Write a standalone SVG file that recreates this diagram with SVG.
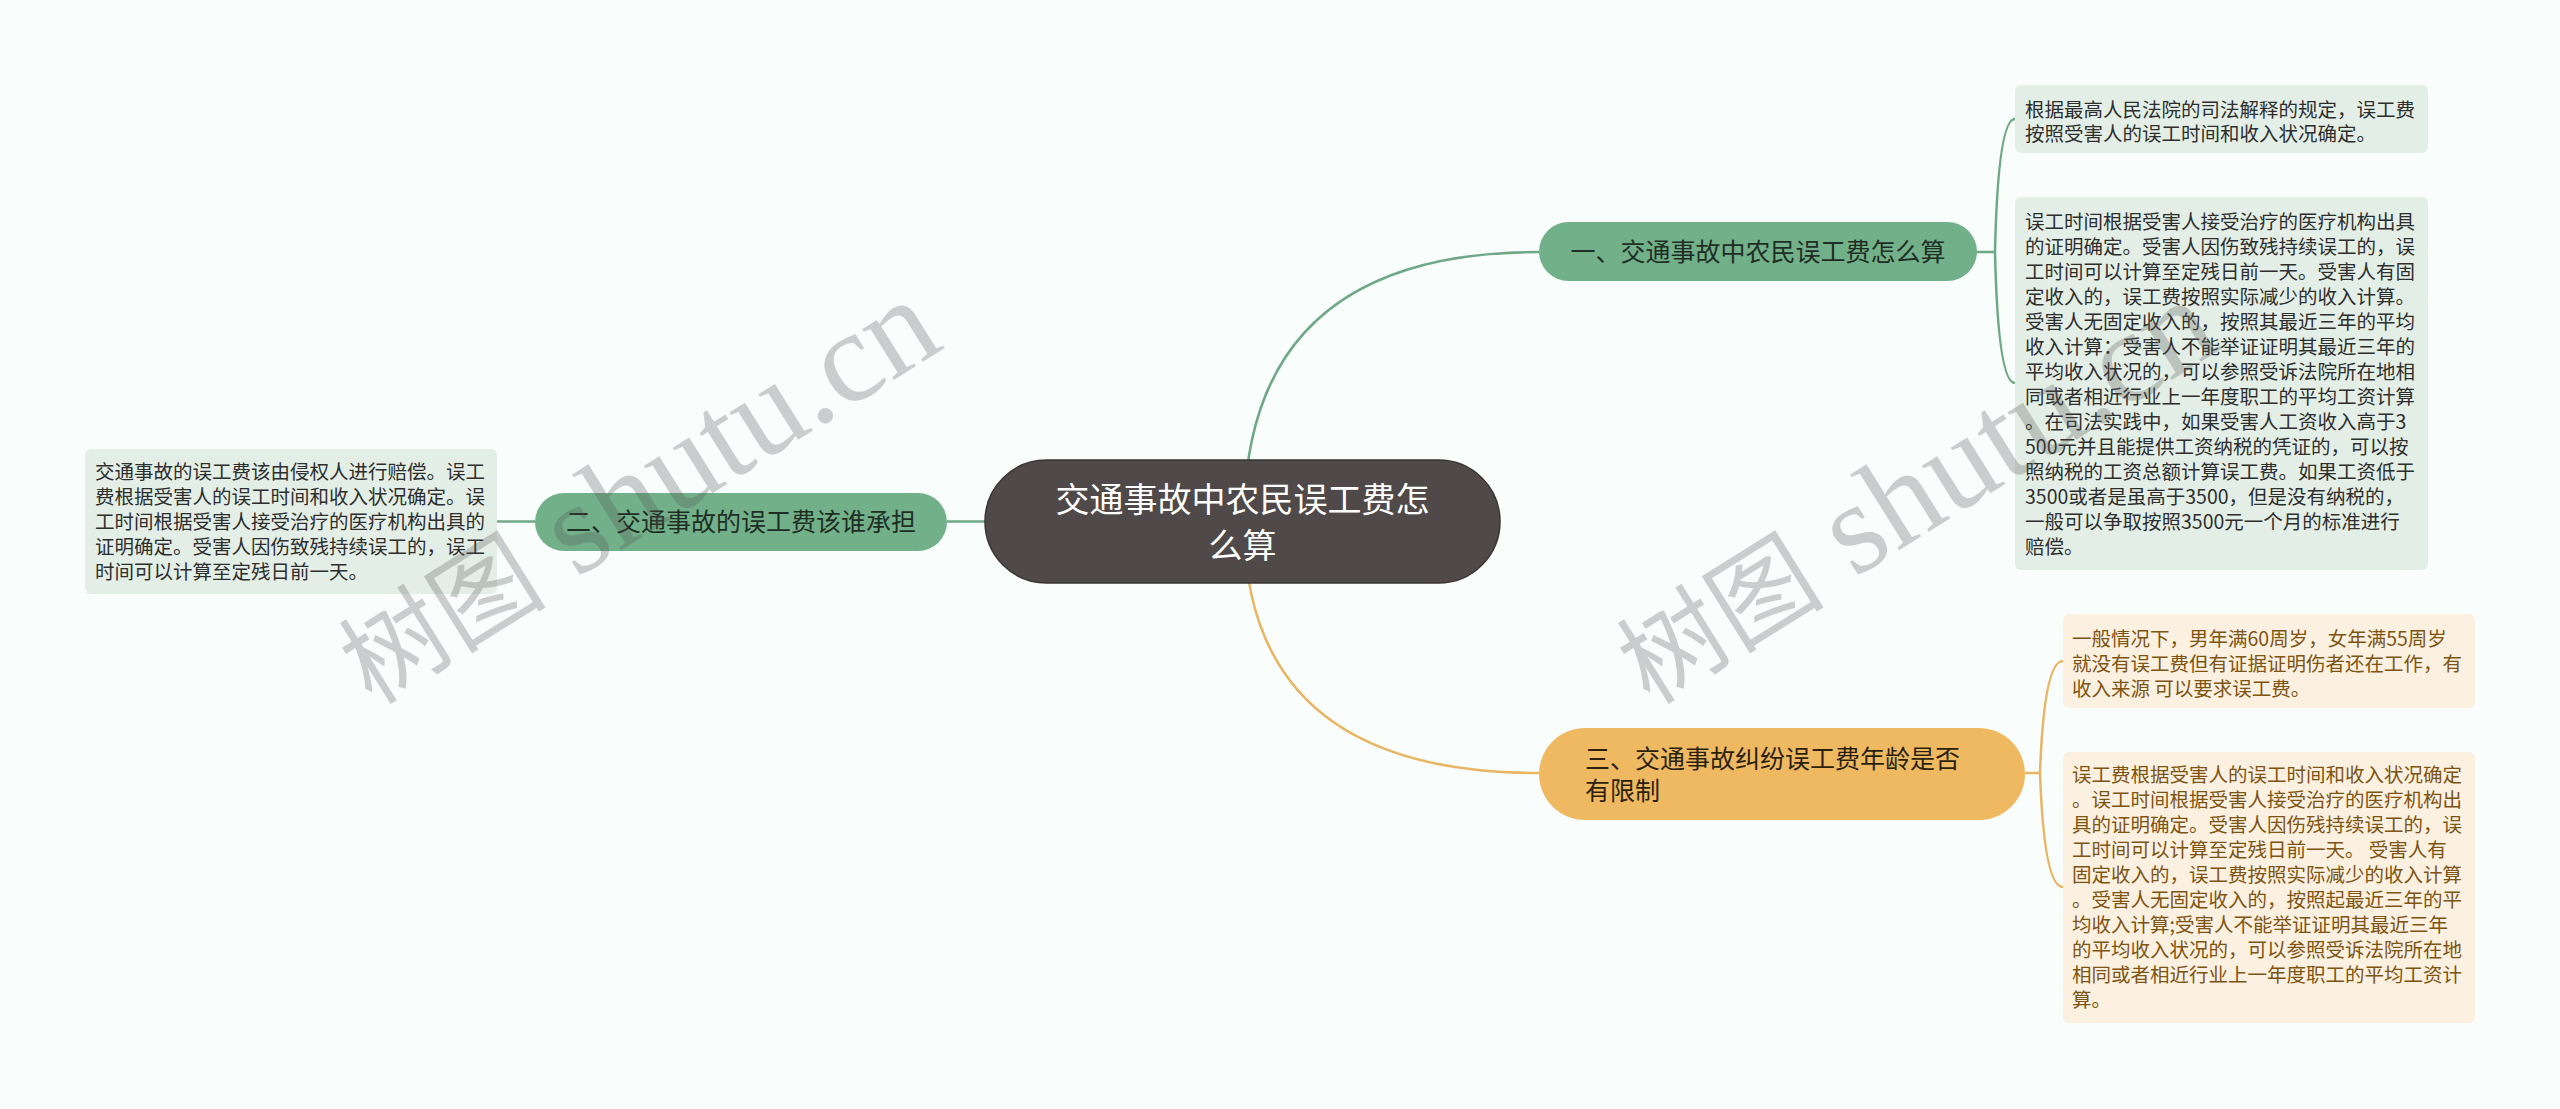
<svg xmlns="http://www.w3.org/2000/svg" width="2560" height="1109" viewBox="0 0 2560 1109">
<style>
.leafg{fill:#e3efe6;}
.leafo{fill:#fcf0e0;}
.lt{font-family:"Noto Sans CJK SC","Noto Sans",sans-serif;font-size:19.5px;}
.ltg{fill:#2e2e2e;}
.lto{fill:#7d5412;}
.nt{font-family:"Noto Sans CJK SC","Noto Sans",sans-serif;font-size:25px;}
.cg{fill:none;stroke:#6fa886;stroke-width:2.5;}
.co{fill:none;stroke:#e8b563;stroke-width:2.5;}
.wm{fill:#555;opacity:0.28;}
</style>
<rect x="0" y="0" width="2560" height="1109" fill="#f9fdfc"/>
<g id="connectors">
<path class="cg" d="M1244 521 Q1244 252 1539 252"/>
<path class="co" d="M1244 521 Q1244 773 1539 773"/>
<path class="cg" d="M947 521.5 H1000"/>
<path class="cg" d="M497 521.5 H535"/>
<path class="cg" d="M1977 252 H1995"/>
<path class="cg" d="M1995 252 Q1998 119 2015 119"/>
<path class="cg" d="M1995 252 Q1998 383 2015 383"/>
<path class="co" d="M2025 773 H2040"/>
<path class="co" d="M2040 773 Q2044 661 2063 661"/>
<path class="co" d="M2040 773 Q2044 887 2063 887"/>
</g>
<g id="center">
<rect x="985" y="460" width="515" height="123" rx="61.5" fill="#4f4949" stroke="#3a3434" stroke-width="1.5"/>
<text font-family="'Noto Sans CJK SC','Noto Sans',sans-serif" font-size="34" fill="#ffffff" text-anchor="middle"><tspan x="1242.5" y="512">交通事故中农民误工费怎</tspan><tspan x="1242.5" y="558">么算</tspan></text>
</g>
<g id="node1">
<rect x="1539" y="222" width="438" height="59" rx="29.5" fill="#72b08a"/>
<text class="nt" fill="#1f2e24" x="1758" y="261" text-anchor="middle">一、交通事故中农民误工费怎么算</text>
</g>
<g id="node2">
<rect x="535" y="493" width="412" height="58" rx="29" fill="#72b08a"/>
<text class="nt" fill="#1f2e24" x="741" y="531" text-anchor="middle">二、交通事故的误工费该谁承担</text>
</g>
<g id="node3">
<rect x="1539" y="728" width="486" height="92" rx="46" fill="#efb962"/>
<text class="nt" fill="#2b1f0e"><tspan x="1585" y="768">三、交通事故纠纷误工费年龄是否</tspan><tspan x="1585" y="800">有限制</tspan></text>
</g>
<g id="leaf1">
<rect class="leafg" x="2015" y="85" width="413" height="68" rx="6"/>
<text class="lt ltg"><tspan x="2025" y="117">根据最高人民法院的司法解释的规定，误工费</tspan><tspan x="2025" y="141">按照受害人的误工时间和收入状况确定。</tspan></text>
</g>
<g id="leaf2">
<rect class="leafg" x="2015" y="197" width="413" height="373" rx="6"/>
<text class="lt ltg"><tspan x="2025" y="229">误工时间根据受害人接受治疗的医疗机构出具</tspan><tspan x="2025" y="254">的证明确定。受害人因伤致残持续误工的，误</tspan><tspan x="2025" y="279">工时间可以计算至定残日前一天。受害人有固</tspan><tspan x="2025" y="304">定收入的，误工费按照实际减少的收入计算。</tspan><tspan x="2025" y="329">受害人无固定收入的，按照其最近三年的平均</tspan><tspan x="2025" y="354">收入计算：受害人不能举证证明其最近三年的</tspan><tspan x="2025" y="379">平均收入状况的，可以参照受诉法院所在地相</tspan><tspan x="2025" y="404">同或者相近行业上一年度职工的平均工资计算</tspan><tspan x="2025" y="429">。在司法实践中，如果受害人工资收入高于3</tspan><tspan x="2025" y="454">500元并且能提供工资纳税的凭证的，可以按</tspan><tspan x="2025" y="479">照纳税的工资总额计算误工费。如果工资低于</tspan><tspan x="2025" y="504">3500或者是虽高于3500，但是没有纳税的，</tspan><tspan x="2025" y="529">一般可以争取按照3500元一个月的标准进行</tspan><tspan x="2025" y="554">赔偿。</tspan></text>
</g>
<g id="leaf3">
<rect class="leafo" x="2063" y="614" width="412" height="94" rx="6"/>
<text class="lt lto"><tspan x="2072" y="646">一般情况下，男年满60周岁，女年满55周岁</tspan><tspan x="2072" y="671">就没有误工费但有证据证明伤者还在工作，有</tspan><tspan x="2072" y="696">收入来源 可以要求误工费。</tspan></text>
</g>
<g id="leaf4">
<rect class="leafo" x="2063" y="752" width="412" height="271" rx="6"/>
<text class="lt lto"><tspan x="2072" y="782">误工费根据受害人的误工时间和收入状况确定</tspan><tspan x="2072" y="807">。误工时间根据受害人接受治疗的医疗机构出</tspan><tspan x="2072" y="832">具的证明确定。受害人因伤残持续误工的，误</tspan><tspan x="2072" y="857">工时间可以计算至定残日前一天。 受害人有</tspan><tspan x="2072" y="882">固定收入的，误工费按照实际减少的收入计算</tspan><tspan x="2072" y="907">。受害人无固定收入的，按照起最近三年的平</tspan><tspan x="2072" y="932">均收入计算;受害人不能举证证明其最近三年</tspan><tspan x="2072" y="957">的平均收入状况的，可以参照受诉法院所在地</tspan><tspan x="2072" y="982">相同或者相近行业上一年度职工的平均工资计</tspan><tspan x="2072" y="1007">算。</tspan></text>
</g>
<g id="leaf5">
<rect class="leafg" x="85" y="449" width="412" height="145" rx="6"/>
<text class="lt ltg"><tspan x="95" y="479">交通事故的误工费该由侵权人进行赔偿。误工</tspan><tspan x="95" y="504">费根据受害人的误工时间和收入状况确定。误</tspan><tspan x="95" y="529">工时间根据受害人接受治疗的医疗机构出具的</tspan><tspan x="95" y="554">证明确定。受害人因伤致残持续误工的，误工</tspan><tspan x="95" y="579">时间可以计算至定残日前一天。</tspan></text>
</g>
<g id="watermarks">
<text class="wm" transform="translate(372 706) rotate(-32)"><tspan font-family="'Noto Sans CJK SC',sans-serif" font-size="104">树图</tspan><tspan font-family="'Liberation Serif',serif" font-size="130"> shutu.cn</tspan></text>
<text class="wm" transform="translate(1650 706) rotate(-32)"><tspan font-family="'Noto Sans CJK SC',sans-serif" font-size="104">树图</tspan><tspan font-family="'Liberation Serif',serif" font-size="130"> shutu.cn</tspan></text>
</g>
</svg>
